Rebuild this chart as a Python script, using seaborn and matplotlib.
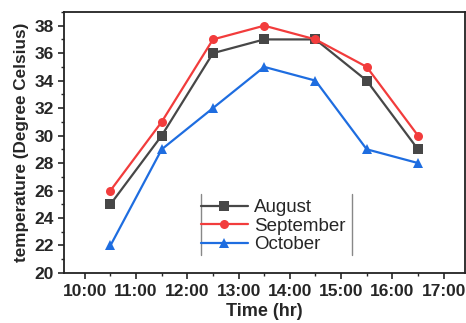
import numpy as np
import pandas as pd
import matplotlib
matplotlib.use("Agg")
import matplotlib.pyplot as plt
import seaborn as sns
from matplotlib.ticker import MultipleLocator

# Measurement times (hours of day) and temperatures per month
hours = [10.5, 11.5, 12.5, 13.5, 14.5, 15.5, 16.5]
august = [25, 30, 36, 37, 37, 34, 29]
september = [26, 31, 37, 38, 37, 35, 30]
october = [22, 29, 32, 35, 34, 29, 28]
months = ["August", "September", "October"]
x_ticks = [10, 11, 12, 13, 14, 15, 16, 17]
x_tick_labels = ["10:00", "11:00", "12:00", "13:00", "14:00", "15:00", "16:00", "17:00"]
y_ticks = [20, 22, 24, 26, 28, 30, 32, 34, 36, 38]

df = pd.DataFrame({
    "hour": hours * 3,
    "temp": august + september + october,
    "month": [months[0]] * 7 + [months[1]] * 7 + [months[2]] * 7,
})

sns.set_style("ticks")
plt.rcParams["font.family"] = ["Liberation Sans", "DejaVu Sans"]

fig = plt.figure(figsize=(4.66, 3.23), dpi=100)
ax = fig.add_axes([0.137, 0.155, 0.86, 0.808])

palette = {"August": "#474747", "September": "#f23c3c", "October": "#1e6de0"}
markers = {"August": "s", "September": "o", "October": "^"}
sns.lineplot(data=df, x="hour", y="temp", hue="month", style="month",
             palette=palette, markers=markers, dashes=False, linewidth=1.6,
             markersize=6.5, markeredgewidth=0, ax=ax)

ax.set_xlim(9.59, 17.41)
ax.set_ylim(20, 39)
ax.set_xticks(x_ticks)
ax.set_xticklabels(x_tick_labels)
ax.set_yticks(y_ticks)
ax.xaxis.set_minor_locator(MultipleLocator(0.5))
ax.yaxis.set_minor_locator(MultipleLocator(1))
ax.tick_params(axis="both", which="major", direction="out", length=4, width=1.2,
               labelsize=12.5, pad=3)
ax.tick_params(axis="x", which="major", pad=4)
ax.tick_params(axis="both", which="minor", direction="out", length=2.5, width=1.0)
for lab in ax.get_xticklabels() + ax.get_yticklabels():
    lab.set_fontweight("bold")
for side in ["top", "right", "bottom", "left"]:
    ax.spines[side].set_visible(True)
    ax.spines[side].set_linewidth(1.3)
    ax.spines[side].set_color("#222222")

ax.set_xlabel("Time (hr)", fontsize=13, fontweight="bold", labelpad=3)
ax.set_ylabel("temperature (Degree Celsius)", fontsize=12.3, fontweight="bold", labelpad=4)

leg = ax.legend(loc="lower left", bbox_to_anchor=(0.342, 0.075), frameon=False,
                fontsize=13.5, handlelength=2.5, handletextpad=0.32, labelspacing=0.08,
                borderpad=0, borderaxespad=0)
# side rules of the legend box
ax.plot([0.3414, 0.3414], [0.069, 0.303], transform=ax.transAxes, color="#888888", lw=1)
ax.plot([0.718, 0.718], [0.069, 0.303], transform=ax.transAxes, color="#888888", lw=1)

fig.savefig("out.png", dpi=100)
